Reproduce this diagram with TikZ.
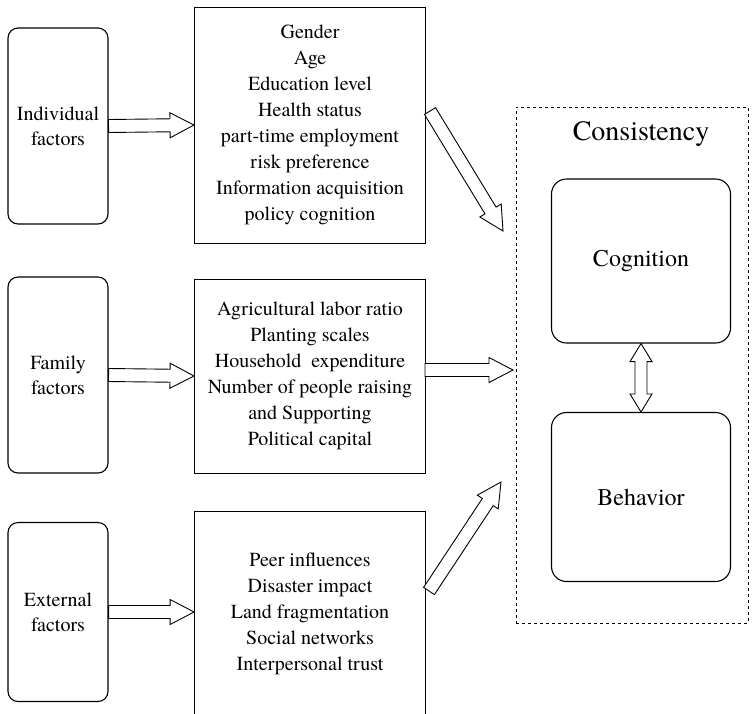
\documentclass[tikz,border=0pt]{standalone}
\usepackage{fontspec}
\setmainfont{TeX Gyre Termes}
\usetikzlibrary{calc}

% hollow block arrow from #1 to #2
\newcommand{\hollowarrow}[2]{%
  \draw[blockline] let \p1=(#1), \p2=(#2),
    \n1={atan2(\y2-\y1,\x2-\x1)}, \n2={veclen(\x2-\x1,\y2-\y1)} in
    [shift={(\p1)}, rotate=\n1]
    (0pt,-6.5pt) -- ({\n2-24pt},-6.5pt) -- ({\n2-24pt},-12.5pt) -- ({\n2+0pt},0pt)
    -- ({\n2-24pt},12.5pt) -- ({\n2-24pt},6.5pt) -- (0pt,6.5pt) -- cycle;}
% same, with a head at both ends
\newcommand{\hollowdarrow}[2]{%
  \draw[blockline] let \p1=(#1), \p2=(#2),
    \n1={atan2(\y2-\y1,\x2-\x1)}, \n2={veclen(\x2-\x1,\y2-\y1)} in
    [shift={(\p1)}, rotate=\n1]
    (0pt,0pt) -- (18pt,11pt) -- (18pt,6pt) -- ({\n2-18pt},6pt) -- ({\n2-18pt},11pt)
    -- ({\n2+0pt},0pt) -- ({\n2-18pt},-11pt) -- ({\n2-18pt},-6pt) -- (18pt,-6pt)
    -- (18pt,-11pt) -- cycle;}

\begin{document}
\begin{tikzpicture}[x=1pt,y=-1pt,
    factor/.style={rectangle,draw,rounded corners=10pt,line width=1.1pt,
      minimum width=100pt,align=center,font=\fontsize{20}{25}\selectfont},
    itemlist/.style={rectangle,draw,line width=0.9pt,minimum width=231pt,
      align=center,font=\fontsize{20}{26}\selectfont},
    stage/.style={rectangle,draw,rounded corners=15pt,line width=1.1pt,
      minimum width=179pt,font=\fontsize{24}{28}\selectfont},
    blockline/.style={draw,line width=0.9pt,fill=white,line join=miter}]
        \useasboundingbox (0,0) rectangle (754,713);

        \node at (58,126) [factor,minimum height=196pt] (ind) {Individual\\factors};
        \node at (58,375) [factor,minimum height=196pt] (fam) {Family\\factors};
        \node at (58,612) [factor,minimum height=179pt] (ext) {External\\factors};

        \node at (310,125) [itemlist,minimum height=236pt] (indlist) {Gender\\Age\\Education level\\Health status\\part-time employment\\risk preference\\Information acquisition\\policy cognition};
        \node at (310,376) [itemlist,minimum height=194pt] (famlist) {Agricultural labor ratio\\Planting scales\\Household~~expenditure\\Number of people raising\\and Supporting\\Political capital};
        \node at (310,614) [itemlist,minimum height=206pt] (extlist) {Peer influences\\Disaster impact\\Land fragmentation\\Social networks\\Interpersonal trust};

        \node at (632,365) [rectangle,draw,dashed,line width=0.7pt,minimum width=232pt,minimum height=516pt] (consist) {};
        \node at (641,134) [font=\fontsize{28}{32}\selectfont] (title) {Consistency};
        \node at (641,261) [stage,minimum height=164pt] (cog) {Cognition};
        \node at (641,497) [stage,minimum height=169pt] (beh) {Behavior};

	\coordinate (d1s) at (430,111);
	\coordinate (d1e) at (503,231);
	\coordinate (d2s) at (425,370);
	\coordinate (d2e) at (513,370);
	\coordinate (d3s) at (429,591);
	\coordinate (d3e) at (501,482);

        \hollowarrow{ind.east}{indlist.west}
        \hollowarrow{fam.east}{famlist.west}
        \hollowarrow{ext.east}{ext.east -| extlist.west}
        \hollowarrow{d1s}{d1e}
        \hollowarrow{d2s}{d2e}
        \hollowarrow{d3s}{d3e}
        \hollowdarrow{cog.south}{beh.north}
    \end{tikzpicture}
\end{document}
